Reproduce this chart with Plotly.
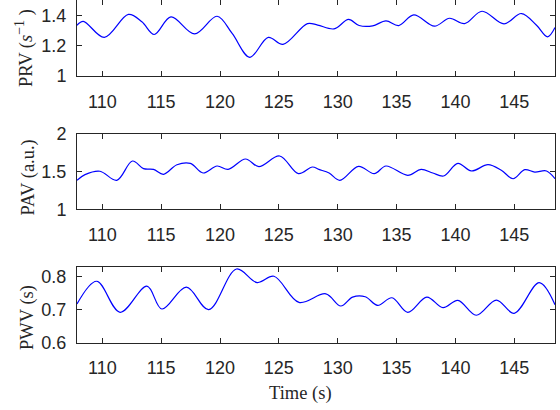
import plotly.graph_objects as go
from plotly.subplots import make_subplots

# PRV (s^-1)
t_prv = [107.85, 108.38, 110.17, 112.22, 113.36, 114.41, 115.83, 117.84, 119.75, 121.03,
         122.53, 124.1, 125.35, 127.43, 128.3, 129.69, 130.92, 131.82, 132.97, 134.1,
         135.18, 136.46, 138.22, 139.5, 140.78, 142.26, 144.13, 145.61, 146.89, 147.83, 148.46]
prv = [1.334, 1.36, 1.254, 1.405, 1.357, 1.273, 1.389, 1.277, 1.393, 1.28,
       1.123, 1.254, 1.208, 1.345, 1.335, 1.31, 1.372, 1.332, 1.33, 1.363,
       1.332, 1.402, 1.328, 1.38, 1.345, 1.426, 1.343, 1.411, 1.334, 1.258, 1.319]

# PAV (a.u.)
t_pav = [107.85, 108.53, 109.8, 111.23, 112.56, 113.5, 114.35, 115.2, 116.34, 117.48,
         118.56, 119.75, 120.69, 122.17, 123.3, 125.06, 126.66, 127.85, 128.4, 129.27,
         130.18, 131.77, 133.1, 134.1, 135.95, 137.08, 138.08, 138.99, 140.21, 141.35,
         142.77, 143.9, 144.9, 145.89, 146.74, 147.74, 148.46]
pav = [1.385, 1.46, 1.505, 1.385, 1.641, 1.54, 1.53, 1.465, 1.592, 1.61,
       1.482, 1.575, 1.53, 1.668, 1.566, 1.708, 1.473, 1.562, 1.53, 1.482,
       1.385, 1.571, 1.473, 1.575, 1.451, 1.531, 1.482, 1.442, 1.611, 1.509,
       1.592, 1.518, 1.406, 1.526, 1.495, 1.509, 1.406]

# PWV (s)
t_pwv = [107.85, 109.52, 111.51, 113.79, 115.06, 117.14, 119.04, 121.4, 123.16, 124.58,
         126.71, 128.99, 130.26, 131.26, 132.34, 133.39, 134.61, 135.95, 137.57, 138.94,
         140.21, 141.77, 143.48, 144.99, 147.12, 148.46]
pwv = [0.717, 0.786, 0.692, 0.771, 0.702, 0.768, 0.70, 0.823, 0.782, 0.801,
       0.722, 0.748, 0.711, 0.738, 0.739, 0.713, 0.736, 0.692, 0.738, 0.706,
       0.728, 0.683, 0.729, 0.689, 0.782, 0.715]

x_ticks = [110, 115, 120, 125, 130, 135, 140, 145]
x_ticklabels = ["110", "115", "120", "125", "130", "135", "140", "145"]
prv_ticks = [1, 1.2, 1.4]
prv_ticklabels = ["1", "1.2", "1.4"]
pav_ticks = [1, 1.5, 2]
pav_ticklabels = ["1", "1.5", "2"]
pwv_ticks = [0.6, 0.7, 0.8]
pwv_ticklabels = ["0.6", "0.7", "0.8"]

W, H = 560, 410
ml, mr, mt, mb = 77, 5, 0, 67
PH = H - mt - mb

def ypap(px):
    return (PH - (px - mt)) / PH

def xpap(px):
    return (px - ml) / (W - ml - mr)

fig = make_subplots(rows=3, cols=1)
series = [(t_prv, prv), (t_pav, pav), (t_pwv, pwv)]
for i, (tx, vy) in enumerate(series):
    fig.add_trace(go.Scatter(x=tx, y=vy, mode="lines", line=dict(color="rgb(0,0,255)", width=1.2, shape="spline", smoothing=1),
                             showlegend=False, hoverinfo="skip"), row=i + 1, col=1)

domains = [(ypap(76), ypap(0)), (ypap(209.3), ypap(134)), (ypap(342.7), ypap(266.7))]
yranges = [[1, 1.5], [1, 2], [0.6, 0.83]]
yticks = [(prv_ticks, prv_ticklabels), (pav_ticks, pav_ticklabels), (pwv_ticks, pwv_ticklabels)]
axcol = "#262626"
tickfont = dict(family="Liberation Sans, Arial, sans-serif", size=18, color=axcol)
for i in range(3):
    n = "" if i == 0 else str(i + 1)
    fig.layout["xaxis" + n].update(range=[107.85, 148.46], tickvals=x_ticks, ticktext=x_ticklabels,
                                  ticks="inside", ticklen=5, tickcolor=axcol, showline=True, linecolor=axcol,
                                  linewidth=1, mirror="ticks", showgrid=False, zeroline=False, tickfont=tickfont,
                                  ticklabelstandoff=9, automargin=False)
    fig.layout["yaxis" + n].update(range=yranges[i], domain=list(domains[i]), tickvals=yticks[i][0], ticktext=yticks[i][1],
                                  ticks="inside", ticklen=5, tickcolor=axcol, showline=True, linecolor=axcol,
                                  linewidth=1, mirror="ticks", showgrid=False, zeroline=False, tickfont=tickfont,
                                  ticklabelstandoff=6, automargin=False)

tfont = dict(family="Liberation Serif, Times New Roman, serif", size=18.5, color=axcol)
ann = [
    ("PRV (<i>s</i><sup><span style='font-size:14px'>−1</span></sup> )", 25, 48),
    ("PAV (a.u.)", 28, 177.5),
    ("PWV (s)", 27, 318),
]
for txt, xp, yp in ann:
    fig.add_annotation(text=txt, x=xpap(xp), y=ypap(yp), xref="paper", yref="paper", textangle=-90,
                       showarrow=False, xanchor="center", yanchor="middle", font=tfont)
fig.add_annotation(text="Time (s)", x=xpap(300), y=ypap(394), xref="paper", yref="paper",
                   showarrow=False, xanchor="center", yanchor="middle", font=tfont)

fig.update_layout(width=W, height=H, margin=dict(l=ml, r=mr, t=mt, b=mb, autoexpand=False), plot_bgcolor="white",
                  paper_bgcolor="white")
fig.write_html("out.html")
